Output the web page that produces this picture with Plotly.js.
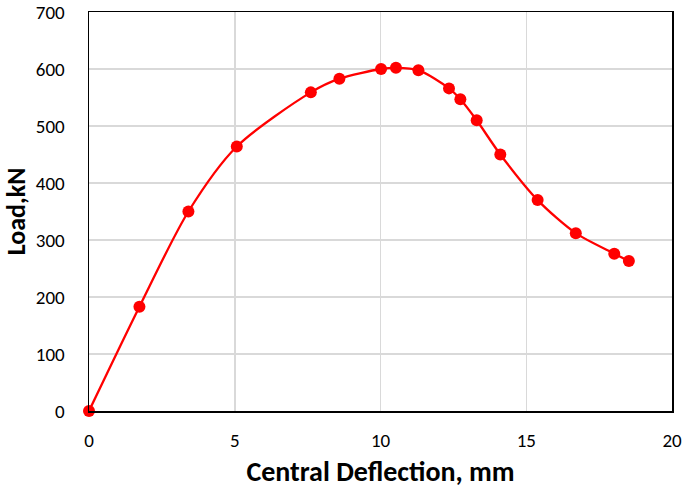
<!DOCTYPE html>
<html><head><meta charset="utf-8">
<script src="https://cdn.plot.ly/plotly-3.0.1.min.js"></script>
<style>html,body{margin:0;padding:0;background:#fff}#chart{width:685px;height:492px}</style>
</head><body><div id="chart"></div>
<script>
const deflection = [0, 1.73, 3.41, 5.07, 7.61, 8.59, 10.02, 10.53, 11.30, 12.35, 12.74, 13.30, 14.11, 15.39, 16.70, 18.02, 18.52];
const load = [0, 183, 350, 464, 559, 583, 600, 602, 598, 566, 547, 510, 450, 370, 312, 276, 263];
const xTicks = [0, 5, 10, 15, 20];
const yTicks = [0, 100, 200, 300, 400, 500, 600, 700];

const font = "Carlito, Calibri, 'Open Sans', 'Noto Sans', sans-serif";
Plotly.newPlot('chart', [{
  x: deflection, y: load, type: 'scatter', mode: 'lines+markers',
  line: {color: '#ff0000', width: 2.3, shape: 'spline', smoothing: 0.8},
  marker: {color: '#ff0000', size: 12},
  cliponaxis: false, showlegend: false
}], {
  width: 685, height: 492,
  margin: {l: 89, r: 13, t: 12, b: 81},
  paper_bgcolor: '#fff', plot_bgcolor: '#fff',
  font: {family: font, color: '#000', size: 19},
  xaxis: {
    range: [0, 20], tickvals: xTicks, ticktext: xTicks.map(String),
    showgrid: true, gridcolor: '#d9d9d9', gridwidth: 1.5,
    showline: true, linecolor: '#000', linewidth: 1.5, mirror: true,
    zeroline: false, ticks: '', ticklabelstandoff: 12, ticklabeloverflow: 'allow',
    tickfont: {size: 19, family: font},
    title: {text: '<b>Central Deflection, mm</b>', font: {size: 28, family: font}, standoff: 10}
  },
  yaxis: {
    range: [0, 700], tickvals: yTicks, ticktext: yTicks.map(String),
    showgrid: true, gridcolor: '#d9d9d9', gridwidth: 1.5,
    showline: true, linecolor: '#000', linewidth: 1.5, mirror: true,
    zeroline: false, ticks: '', ticklabelstandoff: 19, ticklabeloverflow: 'allow',
    tickfont: {size: 19, family: font},
    title: {text: '<b>Load,kN</b>', font: {size: 26, family: font}, standoff: 13}
  }
}, {displayModeBar: false, staticPlot: true});
</script></body></html>
